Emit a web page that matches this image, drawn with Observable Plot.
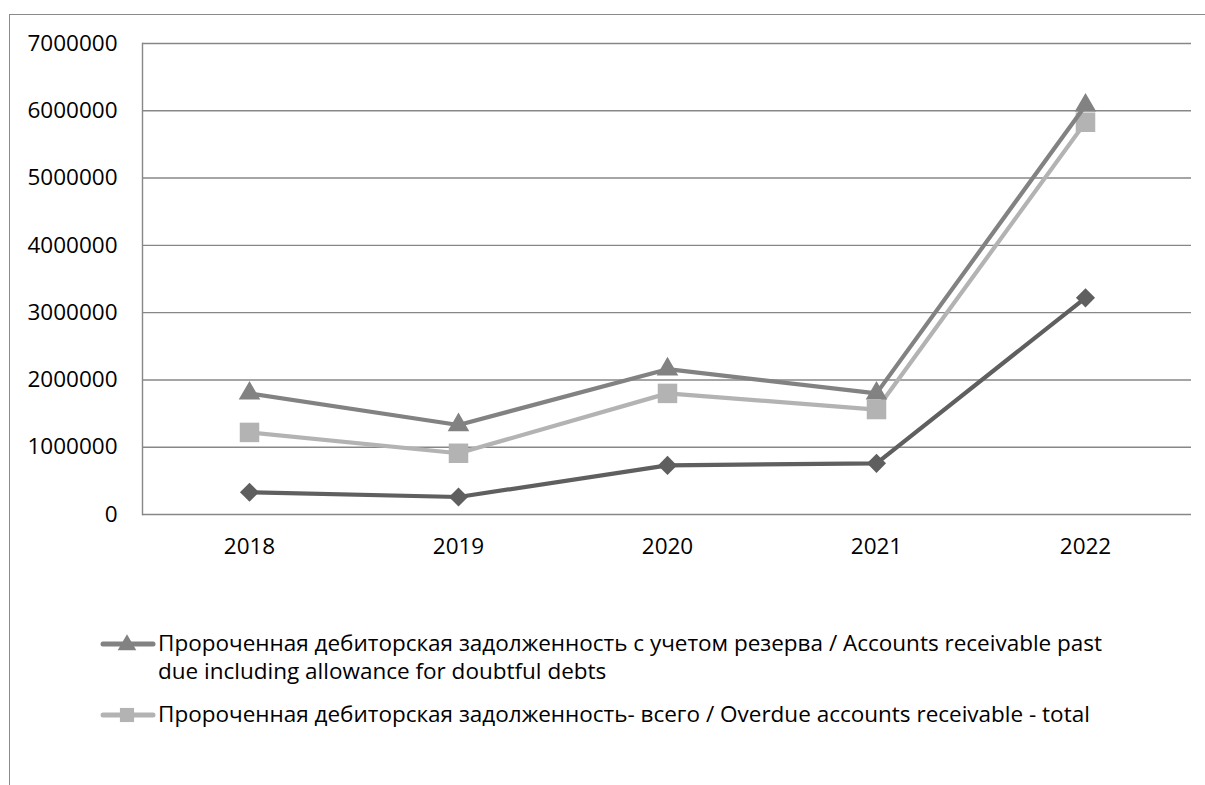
<!DOCTYPE html>
<html><head><meta charset="utf-8">
<script src="https://cdn.jsdelivr.net/npm/d3@7"></script>
<script src="https://cdn.jsdelivr.net/npm/@observablehq/plot@0.6"></script>
<style>
html,body{margin:0;padding:0;background:#fff;}
body{width:1205px;height:785px;position:relative;overflow:hidden;font-family:"Open Sans",sans-serif;}
#frame{position:absolute;left:9px;top:14px;width:1300px;height:900px;border-left:1.5px solid #8a8a8a;border-top:1.5px solid #8a8a8a;}
#chart{position:absolute;left:0;top:0;}
#legend{position:absolute;left:100px;top:629px;font-size:22.5px;line-height:28px;color:#000;}
.item{display:flex;align-items:flex-start;margin-bottom:15px;white-space:nowrap;}
.item svg{flex:none;margin-top:3px;}
.item span{margin-left:2px;}
</style></head>
<body>
<div id="frame"></div>
<div id="chart"></div>
<div id="legend"></div>
<script>
const years = ["2018", "2019", "2020", "2021", "2022"];
const withAllowance = [1800000, 1330000, 2160000, 1800000, 6080000];
const overdueTotal = [1220000, 910000, 1800000, 1560000, 5830000];
const thirdSeries = [330000, 260000, 730000, 760000, 3220000];
const yTicks = [0, 1000000, 2000000, 3000000, 4000000, 5000000, 6000000, 7000000];
const labelA = "Пророченная дебиторская задолженность с учетом резерва / Accounts receivable past\ndue including allowance for doubtful debts";
const labelB = "Пророченная дебиторская задолженность- всего / Overdue accounts receivable - total";

const series = [
  {key: "c", values: thirdSeries, color: "#5f5f5f", symbol: "diamond2", r: 8.6},
  {key: "b", values: overdueTotal, color: "#b3b3b3", symbol: "square", r: 11},
  {key: "a", values: withAllowance, color: "#828282", symbol: "triangle", r: 8}
];
const rows = series.flatMap(s => years.map((y, i) => ({year: y, value: s.values[i], key: s.key})));

const marks = [
  Plot.ruleY(yTicks, {stroke: "#878787", strokeWidth: 1.4}),
  Plot.frame({anchor: "left", stroke: "#878787", strokeWidth: 1.4}),
  Plot.axisY({ticks: yTicks, tickSize: 0, tickPadding: 25, tickFormat: d => String(d), label: null, fontSize: 22.5}),
  Plot.axisX({tickSize: 0, tickPadding: 24, label: null, fontSize: 22.5})
];
for (const s of series) {
  const d = rows.filter(r => r.key === s.key);
  marks.push(Plot.line(d, {x: "year", y: "value", stroke: s.color, strokeWidth: 4.2}));
  marks.push(Plot.dot(d, {x: "year", y: "value", symbol: s.symbol, r: s.r, fill: s.color, stroke: "none"}));
}

const chart = Plot.plot({
  width: 1205, height: 570,
  marginLeft: 142, marginRight: 14, marginTop: 43, marginBottom: 56,
  x: {type: "point", domain: years, padding: 0.5},
  y: {domain: [0, 7000000]},
  style: {fontFamily: "Open Sans", color: "#000", background: "transparent", overflow: "visible"},
  marks
});
document.getElementById("chart").appendChild(chart);

function swatch(color, symbol) {
  const w = 56, h = 24;
  const shape = symbol === "triangle"
    ? `<path d="${d3.symbol(d3.symbolTriangle, 150)()}" transform="translate(27,13)" fill="${color}"/>`
    : `<path d="${d3.symbol(d3.symbolSquare, 200)()}" transform="translate(27,12)" fill="${color}"/>`;
  return `<svg width="${w}" height="${h}"><line x1="3" x2="53" y1="12" y2="12" stroke="${color}" stroke-width="5" stroke-linecap="round"/>${shape}</svg>`;
}
const legend = document.getElementById("legend");
[[labelA, "#828282", "triangle"], [labelB, "#b3b3b3", "square"]].forEach(([t, c, s]) => {
  const div = document.createElement("div");
  div.className = "item";
  div.innerHTML = swatch(c, s) + `<span>${t.replace("\n", "<br>")}</span>`;
  legend.appendChild(div);
});
</script>
</body></html>
